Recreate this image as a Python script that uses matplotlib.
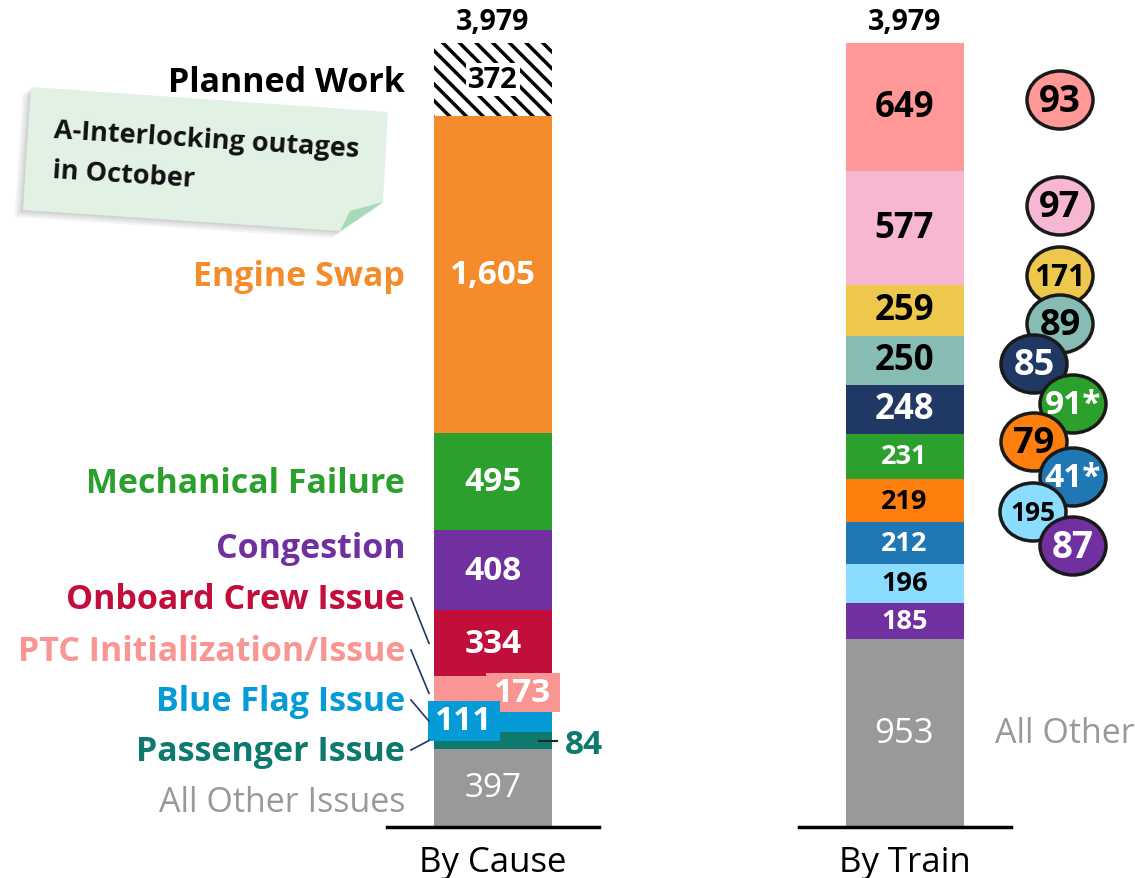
"""
Delay minutes by cause and by train, stacked bars
"""
import matplotlib.pyplot as plt
import numpy as np
from matplotlib.patches import Ellipse, Polygon, Rectangle

plt.rcParams["font.family"] = ["Open Sans", "DejaVu Sans"]
plt.rcParams["hatch.linewidth"] = 2.5

# By cause (bottom -> top)
causes = ["All Other Issues", "Passenger Issue", "Blue Flag Issue", "PTC Initialization/Issue",
          "Onboard Crew Issue", "Congestion", "Mechanical Failure", "Engine Swap", "Planned Work"]
cause_vals = [397, 84, 111, 173, 334, 408, 495, 1605, 372]
cause_colors = ["#999999", "#0D7A6D", "#049BD7", "#F99693", "#C20E3B",
                "#7030A0", "#2CA02C", "#F48C2B", "white"]
cause_lbl_colors = ["#999999", "#0D7A6D", "#049BD7", "#F99693", "#C20E3B",
                    "#7030A0", "#2CA02C", "#F48C2B", "black"]

# By train (bottom -> top)
trains = ["All Other", "87", "195", "41*", "79", "91*", "85", "89", "171", "97", "93"]
train_vals = [953, 185, 196, 212, 219, 231, 248, 250, 259, 577, 649]
train_colors = ["#999999", "#7030A0", "#8BDDFF", "#1F77B4", "#FF7F0E", "#2CA02C",
                "#203864", "#87BCB5", "#EDC84C", "#F7B6D2", "#FF9896"]
train_txt = ["white", "white", "black", "white", "black", "white",
             "white", "black", "black", "black", "black"]

total = sum(cause_vals)
H, W = 879, 1135
Y0, YTOP = 828, 44  # pixel rows of 0 and total


def px(v):
    return Y0 - v * (Y0 - YTOP) / total


fig = plt.figure(figsize=(W / 100, H / 100), dpi=100)
ax = fig.add_axes([0, (H - Y0) / H, 1, (Y0 - YTOP) / H])
ax.set_xlim(0, W)
ax.set_ylim(0, total)
ax.axis("off")
ov = fig.add_axes([0, 0, 1, 1], zorder=5)
ov.set_xlim(0, W)
ov.set_ylim(H, 0)
ov.axis("off")

xc, xt, bw = 493, 904.5, 118
FS = 24.5

# --- left bar
bot = np.concatenate([[0], np.cumsum(cause_vals)[:-1]])
for v, b, c in zip(cause_vals, bot, cause_colors):
    ax.bar(xc, v, bw, bottom=b, color=c, lw=0)
ax.bar(xc, cause_vals[-1], bw, bottom=bot[-1], color="white", hatch="\\\\", edgecolor="black", lw=0)
mid = bot + np.array(cause_vals) / 2

ax.text(xc, mid[-1], "372", ha="center", va="center", fontsize=21, fontweight="bold",
        bbox=dict(boxstyle="square,pad=0.08", fc="white", ec="none"))
for i in (7, 6, 5, 4):
    ax.text(xc, mid[i], f"{cause_vals[i]:,}", ha="center", va="center", color="white",
            fontsize=24, fontweight="bold")
ax.text(xc, mid[0], "397", ha="center", va="center", color="white", fontsize=24)

# small segments: boxed labels
ov.add_patch(Rectangle((486, 674), 74, 39, color=cause_colors[3], lw=0))
ov.text(523, 694, "173", ha="center", va="center", color="white", fontsize=24, fontweight="bold")
ov.add_patch(Rectangle((428, 702), 72, 40, color=cause_colors[2], lw=0))
ov.text(464, 722, "111", ha="center", va="center", color="white", fontsize=24, fontweight="bold")
ov.plot([539, 557], [px(mid[1]), px(mid[1])], color="#222222", lw=1.5)
ov.text(565, px(mid[1]) + 12, "84", ha="left", va="baseline", color=cause_lbl_colors[1],
        fontsize=24, fontweight="bold")

# category labels
lab_y = {0: 801, 1: 750, 2: 700, 3: 650, 4: 598, 5: 547}
for i in (6, 7, 8):
    lab_y[i] = px(mid[i])
for i, name in enumerate(causes):
    ov.text(405, lab_y[i] + 11, name, ha="right", va="baseline", color=cause_lbl_colors[i],
            fontsize=FS, fontweight="normal" if i == 0 else "bold")
for i in (1, 2, 3, 4):
    ov.plot([411, 429], [lab_y[i] + 1, px(mid[i])], color="#1F3864", lw=1.2)

# --- right bar
bot_t = np.concatenate([[0], np.cumsum(train_vals)[:-1]])
for v, b, c in zip(train_vals, bot_t, train_colors):
    ax.bar(xt, v, bw, bottom=b, color=c, lw=0)
mid_t = bot_t + np.array(train_vals) / 2
for i, (v, c) in enumerate(zip(train_vals, train_txt)):
    fs = 25 if v > 240 else 19.5
    ax.text(xt, mid_t[i], f"{v:,}", ha="center", va="center", color=c, fontsize=fs,
            fontweight="normal" if i == 0 else "bold")
ax.text(995, mid_t[0], "All Other", ha="left", va="center", color="#999999", fontsize=FS)

# train number bubbles (top -> bottom)
bub_xy = [(1060, 101), (1060, 207), (1060, 277), (1060, 325), (1034, 365),
          (1073, 405), (1034, 443), (1073, 478), (1033, 513), (1073, 547)]
bub_fs = [26.5, 26, 21.5, 26, 26, 24, 26, 24, 19, 26.5]
for k, ((x, y), fs) in enumerate(zip(bub_xy, bub_fs)):
    i = len(trains) - 1 - k
    ov.add_patch(Ellipse((x, y), 66, 58, fc=train_colors[i], ec="#1A1A1A", lw=2.5, zorder=10 + k))
    ov.text(x, y + 1, trains[i], ha="center", va="center", color=train_txt[i], fontsize=fs,
            fontweight="bold", zorder=10 + k)

# totals, baselines, axis labels
for x, lab in ((xc, "By Cause"), (xt, "By Train")):
    ov.text(x, 30, f"{total:,}", ha="center", va="baseline", fontsize=20.5, fontweight="bold")
    ax.plot([x - 106, x + 106], [0, 0], color="black", lw=2.5, clip_on=False)
    ov.text(x, 872, lab, ha="center", va="baseline", fontsize=25)

# sticky note (soft shadow first)
note = np.array([(31, 88), (388, 113), (383, 203), (340, 232), (23, 211)], dtype=float)
for d in (14, 10, 6, 3):
    sh = note + np.array([-d * 0.6, d * 0.5])
    ov.add_patch(Polygon(sh, fc="#555555", alpha=0.07, lw=0))
ov.add_patch(Polygon(note, fc="#E1F1E4", lw=0))
ov.add_patch(Polygon([(340, 232), (350, 212), (383, 203)], fc="#A6D9B5", lw=0))
ov.text(53, 138, "A-Interlocking outages", rotation=-3.6, rotation_mode="anchor",
        ha="left", va="baseline", fontsize=19.5, fontweight="bold", color="#111111")
ov.text(52, 178, "in October", rotation=-3.6, rotation_mode="anchor",
        ha="left", va="baseline", fontsize=19.5, fontweight="bold", color="#111111")

fig.savefig("out.png", dpi=100)
